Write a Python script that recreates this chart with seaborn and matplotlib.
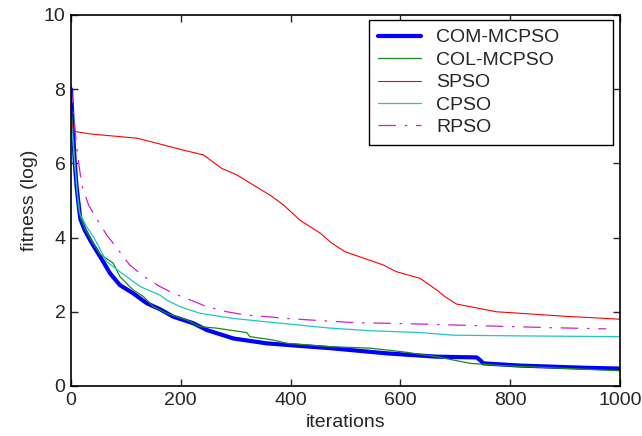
import numpy as np
import pandas as pd
import seaborn as sns
import matplotlib.pyplot as plt

# values
com_x = [0, 4, 7, 10, 13, 17, 25, 38, 53, 71, 89, 113, 138, 162, 186, 223, 247, 296, 356, 417, 472,
         575, 666, 739, 745, 751, 818, 939, 1000]
com_y = [8.0, 6.8, 6.0, 5.4, 5.0, 4.5, 4.2, 3.85, 3.49, 3.04, 2.72, 2.50, 2.23, 2.07, 1.87, 1.69, 1.51,
         1.28, 1.15, 1.08, 1.02, 0.88, 0.79, 0.77, 0.70, 0.61, 0.55, 0.49, 0.47]

col_x = [0, 4, 7, 10, 13, 17, 25, 38, 53, 77, 89, 113, 132, 150, 174, 211, 235, 265, 320, 326, 368, 393,
         472, 545, 605, 666, 727, 787, 939, 1000]
col_y = [7.6, 6.7, 6.0, 5.4, 5.0, 4.55, 4.25, 3.9, 3.55, 3.31, 2.95, 2.59, 2.41, 2.14, 1.96, 1.78, 1.60,
         1.56, 1.44, 1.33, 1.24, 1.15, 1.06, 1.02, 0.92, 0.79, 0.61, 0.55, 0.45, 0.41]

spso_x = [0, 5, 10, 38, 120, 147, 204, 241, 274, 302, 365, 387, 417, 454, 475, 499, 569, 593, 636, 666,
          681, 702, 775, 818, 909, 939, 1000]
spso_y = [7.1, 6.9, 6.85, 6.79, 6.68, 6.58, 6.36, 6.23, 5.87, 5.69, 5.12, 4.88, 4.47, 4.12, 3.85, 3.62,
          3.26, 3.08, 2.90, 2.59, 2.41, 2.21, 2.0, 1.96, 1.87, 1.85, 1.80]

cpso_x = [0, 4, 8, 12, 16, 28, 41, 65, 89, 126, 162, 174, 198, 235, 296, 356, 417, 472, 545, 636, 696,
          818, 1000]
cpso_y = [7.2, 6.5, 5.8, 5.1, 4.65, 4.3, 4.02, 3.35, 3.08, 2.68, 2.45, 2.32, 2.14, 1.96, 1.82, 1.73,
          1.64, 1.56, 1.49, 1.44, 1.37, 1.35, 1.33]

rpso_x = [0, 5, 10, 15, 20, 32, 50, 65, 86, 107, 132, 162, 186, 217, 247, 284, 320, 356, 393, 435, 514,
          636, 757, 879, 975]
rpso_y = [8.1, 7.3, 6.5, 5.9, 5.4, 4.88, 4.43, 4.07, 3.67, 3.26, 2.96, 2.68, 2.50, 2.32, 2.14, 2.0,
          1.91, 1.87, 1.82, 1.78, 1.71, 1.67, 1.62, 1.57, 1.54]

series = [
    ('COM-MCPSO', com_x, com_y, '#0000ff', 3.0, '-'),
    ('COL-MCPSO', col_x, col_y, '#1a8a1a', 0.9, '-'),
    ('SPSO', spso_x, spso_y, '#ff0000', 0.8, '-'),
    ('CPSO', cpso_x, cpso_y, '#20c4c4', 0.9, '-'),
    ('RPSO', rpso_x, rpso_y, '#d020d0', 0.9, (0, (14, 7, 2, 7))),
]

sns.set_style('ticks')
plt.rcParams['font.family'] = ['Liberation Sans', 'DejaVu Sans']

fig = plt.figure(figsize=(6.42, 4.36), dpi=100)
ax = fig.add_axes([0.1106, 0.1147, 0.8551, 0.8509])

for name, xs, ys, color, lw, ls in series:
    df = pd.DataFrame({'iterations': xs, 'fitness': ys})
    sns.lineplot(data=df, x='iterations', y='fitness', ax=ax, color=color, linewidth=lw,
                 linestyle=ls, label=name, estimator=None, sort=False)

ax.set_xlim(0, 1000)
ax.set_ylim(0, 10)
ax.set_xticks([0, 200, 400, 600, 800, 1000])
ax.set_yticks([0, 2, 4, 6, 8, 10])
ax.tick_params(direction='in', top=True, right=True, labelsize=14, length=5, width=1, pad=4)
for s in ax.spines.values():
    s.set_visible(True)
    s.set_linewidth(1.2)
    s.set_color('black')
ax.set_xlabel('iterations', fontsize=14, labelpad=4)
ax.set_ylabel('fitness (log)', fontsize=14, labelpad=4)

# legend box stretched to the reference width (MATLAB-like wide frame)
leg = ax.legend(loc='upper left', mode='expand', bbox_to_anchor=(0.543, 0.64, 0.444, 0.3465),
                borderaxespad=0, fontsize=14, frameon=True, fancybox=False, edgecolor='black',
                handlelength=2.2, handletextpad=0.8, labelspacing=0.25, borderpad=0.45)
leg.get_frame().set_linewidth(1.0)
leg.get_frame().set_alpha(1)

fig.savefig('out.png', dpi=100)
